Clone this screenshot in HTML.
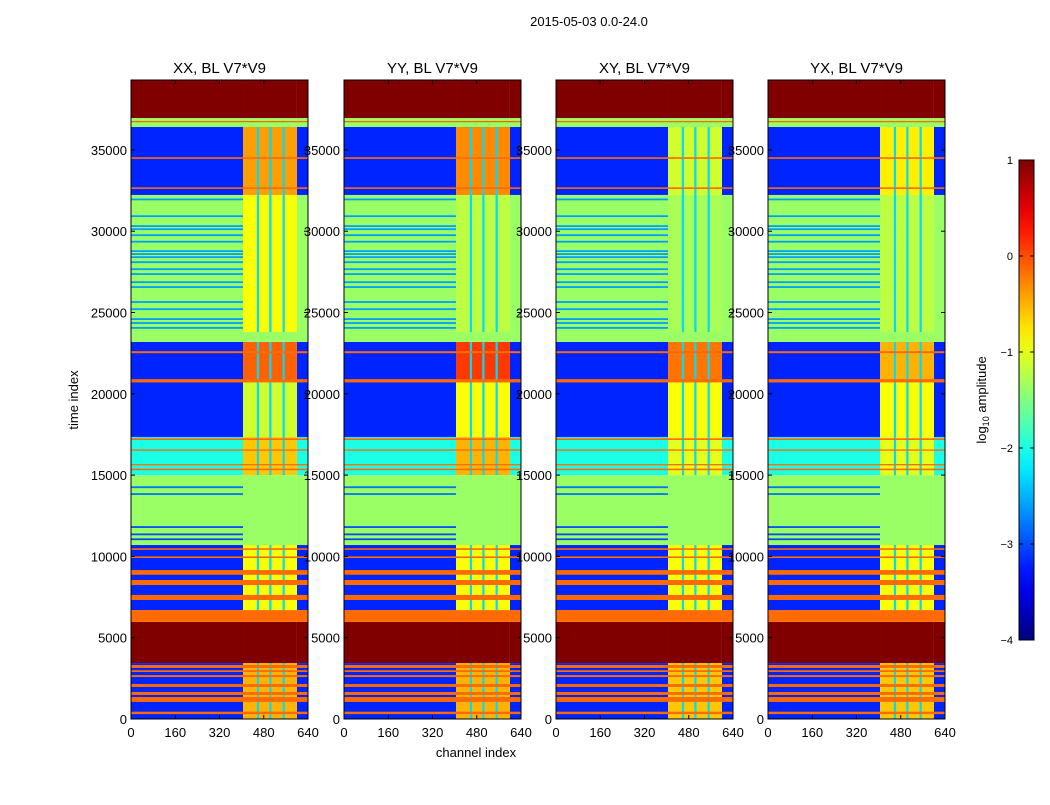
<!DOCTYPE html>
<html><head><meta charset="utf-8">
<style>
body{margin:0;background:#fff;width:1050px;height:800px;overflow:hidden;font-family:"Liberation Sans",sans-serif;}
svg text{font-family:"Liberation Sans",sans-serif;fill:#000;}
</style></head>
<body>
<svg id="chart" width="1050" height="800" xmlns="http://www.w3.org/2000/svg">
<text x="589" y="26" font-size="13" text-anchor="middle">2015-05-03 0.0-24.0</text>
<g id="panels"></g>
<text x="476" y="757" font-size="13" text-anchor="middle">channel index</text>
<text x="0" y="0" font-size="13" text-anchor="middle" transform="translate(78,400) rotate(-90)">time index</text>
<g id="cbar"></g>
</svg>
<script>
// panel titles
const panelTitles = ["XX, BL V7*V9","YY, BL V7*V9","XY, BL V7*V9","YX, BL V7*V9"];
// time bands (time index) with log10 amplitude levels: left region (ch 0-405, 600-640) and right region (ch 405-600) per panel
const bandStart = [0,3440,5970,6700,10700,15000,17340,20850,23190,23800,32230,36410,36960];
const bandEnd   = [3440,5970,6700,10700,15000,17340,20850,23190,23800,32230,36410,36960,39300];
const leftLevel = [-3.2,1,-0.15,-3.2,-1.37,-2.0,-3.2,-3.2,-1.37,-1.37,-3.2,-1.37,1];
const rightXX   = [-0.5,1,-0.15,-0.9,-1.37,-0.6,-1.1,-0.1,-1.37,-0.9,-0.4,-1.37,1];
const rightYY   = [-0.5,1,-0.15,-0.9,-1.37,-0.5,-0.9,0.1,-1.37,-1.2,-0.3,-1.37,1];
const rightXY   = [-0.6,1,-0.15,-0.9,-1.37,-1.0,-0.9,-0.2,-1.37,-1.3,-1.1,-1.37,1];
const rightYX   = [-0.6,1,-0.15,-0.9,-1.37,-1.0,-0.9,-0.5,-1.37,-1.2,-0.8,-1.37,1];
// full-width orange flag lines (time start, time end)
const flagStart = [300,1050,1480,1970,2580,2890,3140,6200,7320,8240,8870,9900,10400,15300,15600,16500,17160,20700,22500,32600,34450,36700];
const flagEnd   = [450,1350,1660,2150,2700,3000,3320,6400,7630,8550,9160,10000,10500,15400,15680,16580,17260,20900,22620,32700,34550,36780];
// blue lines in left region (time)
const blueLine = [11000,11300,11750,13780,14200,24000,24300,24540,25150,25590,26510,26810,27310,27610,28040,28350,28540,28720,29300,29700,30070,30260,30870,31900];
const blueLevel = [-3,-3,-3,-2.8,-2.8,-2.6,-2.6,-2.6,-2.6,-2.6,-2.6,-2.6,-2.6,-2.6,-2.6,-2.6,-2.6,-2.6,-2.6,-2.6,-2.6,-2.6,-2.6,-2.6];
// vertical stripe channels inside the right region
const stripeCh = [455,500,548];
const xTicks = [0,160,320,480,640];
const yTicks = [0,5000,10000,15000,20000,25000,30000,35000];
const cbTicks = [1,0,-1,-2,-3,-4];
const rights = [rightXX,rightYY,rightXY,rightYX];

const panelX = [131,344,556,768], PW=177, PY0=80, PY1=719;
const TMAX=39300, CMAX=640, CH_R0=405, CH_R1=600;
const NS="http://www.w3.org/2000/svg";
function jet(v){let x=(v+4)/5;x=Math.max(0,Math.min(1,x));
 const c=t=>Math.round(255*Math.max(0,Math.min(1,t)));
 return `rgb(${c(1.5-Math.abs(4*x-3))},${c(1.5-Math.abs(4*x-2))},${c(1.5-Math.abs(4*x-1))})`;}
function mk(tag,attrs,parent){const e=document.createElementNS(NS,tag);for(const k in attrs)e.setAttribute(k,attrs[k]);parent.appendChild(e);return e;}
const root=document.getElementById('panels');
panelX.forEach((px,p)=>{
 const xs=c=>px+c/CMAX*PW, ys=t=>PY1-t/TMAX*(PY1-PY0);
 const g=mk('g',{},root);
 
 
 const rect=(c0,c1,t0,t1,v,name)=>{const r=mk('rect',{x:xs(c0),y:ys(t1),width:xs(c1)-xs(c0),height:Math.max(0.8,ys(t0)-ys(t1)),fill:jet(v)},g);
  
  return r;};
 for(let i=0;i<bandStart.length;i++){
  rect(0,CH_R0,bandStart[i],bandEnd[i],leftLevel[i],'band-left');
  rect(CH_R1,CMAX,bandStart[i],bandEnd[i],leftLevel[i],'band-left');
  rect(CH_R0,CH_R1,bandStart[i],bandEnd[i],rights[p][i],'band-right');
  if(leftLevel[i]!==rights[p][i]){stripeCh.forEach(c=>rect(c,c+8,bandStart[i],bandEnd[i],-2.3,'channel-stripe'));}
 }
 for(let i=0;i<blueLine.length;i++){rect(0,CH_R0,blueLine[i],blueLine[i]+110,blueLevel[i],'blue-line');}
 for(let i=0;i<flagStart.length;i++){rect(0,CMAX,flagStart[i],flagEnd[i],-0.15,'flag-line');}
 const fr=mk('rect',{x:px,y:PY0,width:PW,height:PY1-PY0,fill:'none',stroke:'#000','stroke-width':1},g);
 
 
 const tt=mk('text',{x:px+PW/2,y:73,'font-size':15,'text-anchor':'middle'},g);tt.textContent=panelTitles[p];
 
 
 xTicks.forEach(c=>{const t=mk('text',{x:xs(c),y:737,'font-size':13,'text-anchor':'middle'},g);t.textContent=c;
  
  
  mk('line',{x1:xs(c),x2:xs(c),y1:PY1,y2:PY1-4,stroke:'#000'},g);mk('line',{x1:xs(c),x2:xs(c),y1:PY0,y2:PY0+4,stroke:'#000'},g);});
 yTicks.forEach(v=>{const t=mk('text',{x:px-4,y:ys(v)+5,'font-size':13,'text-anchor':'end'},g);t.textContent=v;
  
  
  mk('line',{x1:px,x2:px+4,y1:ys(v),y2:ys(v),stroke:'#000'},g);mk('line',{x1:px+PW,x2:px+PW-4,y1:ys(v),y2:ys(v),stroke:'#000'},g);});
});
// colorbar
const cb=document.getElementById('cbar');
const CB_X=1019,CB_W=15,CB_Y0=160,CB_Y1=640;
const defs=mk('defs',{},cb);const lg=mk('linearGradient',{id:'jetg',x1:0,y1:1,x2:0,y2:0},defs);
for(let i=0;i<=20;i++){mk('stop',{offset:i/20,'stop-color':jet(-4+5*i/20)},lg);}
const cr=mk('rect',{x:CB_X,y:CB_Y0,width:CB_W,height:CB_Y1-CB_Y0,fill:'url(#jetg)',stroke:'#000'},cb);


const cys=v=>CB_Y1-(v+4)/5*(CB_Y1-CB_Y0);
cbTicks.forEach(v=>{const t=mk('text',{x:1013,y:cys(v)+4,'font-size':11,'text-anchor':'end'},cb);t.textContent=v<0?'\u2212'+(-v):v;
 
 
 mk('line',{x1:CB_X,x2:CB_X+4,y1:cys(v),y2:cys(v),stroke:'#000'},cb);mk('line',{x1:CB_X+CB_W,x2:CB_X+CB_W-4,y1:cys(v),y2:cys(v),stroke:'#000'},cb);});
const cl=mk('text',{'font-size':13,'text-anchor':'middle',transform:'translate(986,400) rotate(-90)'},cb);
cl.innerHTML='log<tspan font-size="9" dy="3">10</tspan><tspan dy="-3"> amplitude</tspan>';


</script>
</body></html>
